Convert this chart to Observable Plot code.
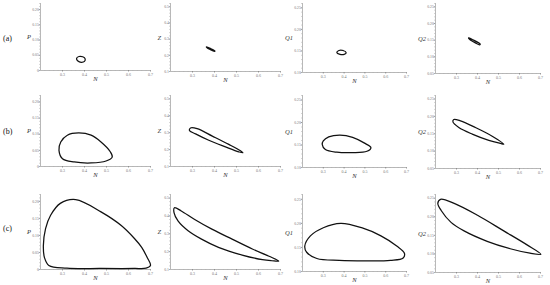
<!DOCTYPE html>
<html><head><meta charset="utf-8">
<script src="https://cdn.jsdelivr.net/npm/d3@7"></script>
<script src="https://cdn.jsdelivr.net/npm/@observablehq/plot@0.6"></script>
<style>
body{margin:0;background:#fff}
#chart{position:relative;width:550px;height:285px;overflow:hidden;background:#fff}
#chart svg{position:absolute;overflow:visible;background:transparent}
.rowlab{position:absolute;font-family:"Liberation Serif","DejaVu Serif",serif;font-size:8px;color:#111;line-height:8px}
</style></head><body><div id="chart"></div>
<script>
// ---- data ----
const rowLabels = ["(a)", "(b)", "(c)"];
const xLabel = "N";
const yLabels = ["P", "Z", "Q1", "Q2"];
const xTicks = [0.3, 0.4, 0.5, 0.6, 0.7];
const yTicksP = [0, 0.05, 0.10, 0.15, 0.20];
const yTicksZ = [0.1, 0.2, 0.3, 0.4, 0.5];
const yTicksQ1 = [0.10, 0.15, 0.20, 0.25];
const yTicksQ2 = [0.05, 0.10, 0.15, 0.20, 0.25];

// orbits [N, value]
const orbitA_P = [[0.375,0.046],[0.392,0.045],[0.403,0.038],[0.400,0.030],[0.385,0.027],[0.370,0.031],[0.364,0.040]];
const orbitA_Z = [[0.363,0.252],[0.383,0.241],[0.402,0.227],[0.400,0.225],[0.380,0.236],[0.365,0.248]];
const orbitA_Q1 = [[0.375,0.151],[0.395,0.151],[0.410,0.146],[0.400,0.142],[0.380,0.142],[0.365,0.146]];
const orbitA_Q2 = [[0.357,0.157],[0.375,0.152],[0.413,0.138],[0.410,0.136],[0.390,0.142],[0.362,0.153]];

const orbitB_P = [[0.373,0.104],[0.430,0.097],[0.475,0.076],[0.518,0.045],[0.526,0.029],[0.498,0.017],[0.430,0.011],[0.353,0.014],[0.300,0.024],[0.284,0.050],[0.292,0.076],[0.322,0.097]];
const orbitB_Z = [[0.291,0.328],[0.321,0.324],[0.390,0.280],[0.465,0.231],[0.518,0.193],[0.529,0.181],[0.510,0.187],[0.450,0.216],[0.374,0.255],[0.314,0.293],[0.286,0.313]];
const orbitB_Q1 = [[0.380,0.172],[0.441,0.167],[0.503,0.153],[0.529,0.144],[0.510,0.136],[0.441,0.133],[0.365,0.134],[0.310,0.140],[0.295,0.151],[0.300,0.159],[0.326,0.168]];
const orbitB_Q2 = [[0.287,0.191],[0.319,0.187],[0.390,0.168],[0.470,0.143],[0.525,0.120],[0.510,0.122],[0.454,0.131],[0.375,0.149],[0.311,0.168],[0.283,0.184]];

const orbitC_P = [[0.360,0.205],[0.475,0.169],[0.567,0.129],[0.627,0.091],[0.660,0.065],[0.685,0.035],[0.700,0.012],[0.680,0.004],[0.627,0.003],[0.475,0.003],[0.320,0.004],[0.238,0.012],[0.218,0.035],[0.213,0.070],[0.223,0.120],[0.246,0.159],[0.290,0.194]];
const orbitC_Z = [[0.218,0.446],[0.249,0.428],[0.310,0.380],[0.388,0.326],[0.480,0.270],[0.572,0.215],[0.648,0.174],[0.692,0.147],[0.660,0.149],[0.618,0.155],[0.526,0.181],[0.418,0.224],[0.341,0.270],[0.280,0.317],[0.234,0.372],[0.216,0.418]];
const orbitC_Q1 = [[0.384,0.200],[0.484,0.191],[0.577,0.174],[0.653,0.153],[0.690,0.138],[0.684,0.128],[0.623,0.123],[0.500,0.122],[0.377,0.123],[0.269,0.127],[0.220,0.140],[0.211,0.153],[0.238,0.174],[0.300,0.191]];
const orbitC_Q2 = [[0.224,0.247],[0.289,0.236],[0.400,0.204],[0.525,0.162],[0.634,0.125],[0.702,0.099],[0.650,0.102],[0.556,0.114],[0.446,0.134],[0.336,0.162],[0.274,0.185],[0.227,0.217],[0.211,0.236]];

const orbits = [
  [orbitA_P, orbitA_Z, orbitA_Q1, orbitA_Q2],
  [orbitB_P, orbitB_Z, orbitB_Q1, orbitB_Q2],
  [orbitC_P, orbitC_Z, orbitC_Q1, orbitC_Q2]
];
const yTickSets = [yTicksP, yTicksZ, yTicksQ1, yTicksQ2];
const yFormats = [d => d === 0 ? "0" : d.toFixed(2), d => d.toFixed(1), d => d.toFixed(2), d => d.toFixed(2)];

// ---- layout ----
const xDomain = [0.2, 0.7];
const yDomains = [[0, 0.22], [0.1, 0.52], [0.1, 0.26], [0.05, 0.26]];
const yMinorStep = [0.01, 0.02, 0.01, 0.01];
const colX0 = [40, 170, 302, 435];
const colX1 = [150, 280, 406, 540];
const rowTop = [3, 95, 194];
const rowBottom = [[70, 71, 72, 73], [166, 166, 167, 168], [269, 269, 271, 272]];
const rowLabelY = [39, 132, 229];

const chart = document.getElementById("chart");
const serif = '"Liberation Serif","DejaVu Serif",serif';

function panel(data, r, c) {
  const ml = 26, mr = 4, mt = 3, mb = 14;
  const x0 = colX0[c], x1 = colX1[c];
  const yb = rowBottom[r][c], yt = rowTop[r];
  const yd = yDomains[c];
  const svg = Plot.plot({
    width: x1 - x0 + ml + mr,
    height: yb - yt + mt + mb,
    marginLeft: ml, marginRight: mr, marginTop: mt, marginBottom: mb,
    x: {domain: xDomain, label: null},
    y: {domain: yd, label: null},
    style: {background: "transparent", fontFamily: serif, overflow: "visible"},
    marks: [
      Plot.ruleY([yd[0]], {stroke: "#9a9a9a", strokeWidth: 0.7}),
      Plot.ruleX([xDomain[0]], {stroke: "#9a9a9a", strokeWidth: 0.7}),
      Plot.axisX({ticks: d3.range(0.22, 0.705, 0.02), tickSize: 1, tickFormat: () => "", stroke: "#aaa", strokeWidth: 0.5, label: null}),
      Plot.axisX({ticks: xTicks, tickSize: 1.6, tickPadding: 0.8, tickFormat: d => d.toFixed(1), fontSize: 4, color: "#777", strokeWidth: 0.6, label: null}),
      Plot.axisY({ticks: d3.range(yd[0] + yMinorStep[c], yd[1] + 1e-9, yMinorStep[c]), tickSize: 1, tickFormat: () => "", stroke: "#aaa", strokeWidth: 0.5, label: null}),
      Plot.axisY({ticks: yTickSets[c], tickSize: 1.2, tickPadding: 0.4, tickFormat: yFormats[c], fontSize: 3.8, color: "#777", strokeWidth: 0.6, label: null}),
      Plot.line(data, {x: d => d[0], y: d => d[1], curve: "catmull-rom-closed", stroke: "#111", strokeWidth: 1.25}),
      Plot.text([xLabel], {frameAnchor: "bottom", dy: 10.5, text: d => d, fontSize: 6.5, fontStyle: "italic", fill: "#333", fontFamily: serif}),
      Plot.text([yLabels[c]], {frameAnchor: "left", dx: -9.5, textAnchor: "end", text: d => d, fontSize: 6.5, fontStyle: "italic", fill: "#333", fontFamily: serif})
    ]
  });
  svg.style.left = (x0 - ml) + "px";
  svg.style.top = (yt - mt) + "px";
  chart.appendChild(svg);
}

orbits.forEach((row, r) => row.forEach((data, c) => panel(data, r, c)));

rowLabels.forEach((t, r) => {
  const d = document.createElement("div");
  d.className = "rowlab";
  d.textContent = t;
  d.style.left = "3px";
  d.style.top = (rowLabelY[r] - 4) + "px";
  chart.appendChild(d);
});
</script></body></html>
